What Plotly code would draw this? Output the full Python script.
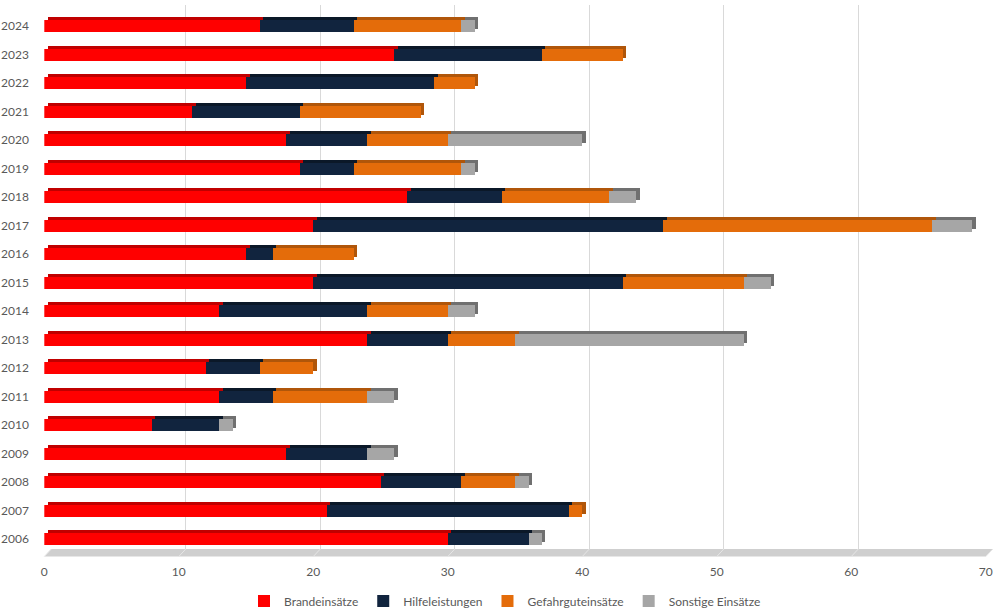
import plotly.graph_objects as go

years = [str(y) for y in range(2006, 2025)]
brand = [30, 21, 25, 18, 8, 13, 12, 24, 13, 20, 15, 20, 27, 19, 18, 11, 15, 26, 16]
hilfe = [6, 18, 6, 6, 5, 4, 4, 6, 11, 23, 2, 26, 7, 4, 6, 8, 14, 11, 7]
gefahr = [0, 1, 4, 0, 0, 7, 4, 5, 6, 9, 6, 20, 8, 8, 6, 9, 3, 6, 8]
sonst = [1, 0, 1, 2, 1, 2, 0, 17, 2, 2, 0, 3, 2, 1, 10, 0, 0, 0, 1]

names = ["Brandeinsätze", "Hilfeleistungen", "Gefahrguteinsätze", "Sonstige Einsätze"]
series = [brand, hilfe, gefahr, sonst]
front_colors = ["#FF0000", "#11243E", "#E46C0A", "#A6A6A6"]
side_colors = ["#C00000", "#0B1828", "#B0560A", "#707070"]

W, H = 1000, 611
FONT = "Lato"
TXT = "#595959"

# pixel geometry
fx0, fx1 = 44.3, 985.8          # front face: x=0 and x=70
fy_top, fy_bot = 12.0, 553.5     # front category band
dx, dy = 3.5, 3.0                # depth offset of top / end faces
gx_off = 7.0                     # back plane offset for gridlines
gy_top, gy_bot = 5.0, 549.0

def px(x):
    return x / W

def py(y):
    return (H - y) / H

fig = go.Figure()

# grid subplot (back plane)
fig.add_trace(go.Scatter(x=[None], y=[None], xaxis="x", yaxis="y",
                         showlegend=False, hoverinfo="skip"))

# depth faces (shadow subplot)
for s, c in zip(series, side_colors):
    fig.add_trace(go.Bar(y=years, x=s, orientation="h", marker=dict(color=c, line=dict(width=0)),
                         width=0.42, xaxis="x2", yaxis="y2", showlegend=False, hoverinfo="skip"))

# front faces
for n, s, c in zip(names, series, front_colors):
    fig.add_trace(go.Bar(y=years, x=s, name=n, orientation="h",
                         marker=dict(color=c, line=dict(width=0)),
                         width=0.42, xaxis="x3", yaxis="y3"))

# floor
shapes = [dict(type="path", xref="paper", yref="paper", layer="below",
               path=f"M {px(fx0+gx_off)},{py(gy_bot)} L {px(fx1+gx_off)},{py(gy_bot)} "
                    f"L {px(fx1)},{py(gy_bot+7.5)} L {px(fx0)},{py(gy_bot+7.5)} Z",
               fillcolor="#CFCFCF", line=dict(width=0))]
for v in range(0, 71, 10):
    xx = fx0 + (fx1 - fx0) * v / 70
    shapes.append(dict(type="line", xref="paper", yref="paper", layer="below",
                       x0=px(xx + gx_off), y0=py(gy_bot), x1=px(xx), y1=py(gy_bot + 7.5),
                       line=dict(color="#E6E6E6", width=1)))

hidden = dict(showgrid=False, zeroline=False, showline=False, showticklabels=False, ticks="",
              automargin=False)

fig.update_layout(
    width=W, height=611, autosize=False,
    margin=dict(l=0, r=0, t=0, b=0, autoexpand=False),
    paper_bgcolor="white", plot_bgcolor="rgba(0,0,0,0)",
    barmode="stack",
    font=dict(family=FONT, size=12, color=TXT),
    shapes=shapes,
    xaxis=dict(domain=[px(fx0 + gx_off), px(fx1 + gx_off)], range=[0, 70], dtick=10,
               showgrid=True, gridcolor="#D9D9D9", gridwidth=1, zeroline=False,
               showline=False, showticklabels=False, ticks="", anchor="y", automargin=False),
    yaxis=dict(domain=[py(gy_bot), py(gy_top)], range=[0, 1], anchor="x", **hidden),
    xaxis2=dict(domain=[px(fx0 + dx), px(fx1 + dx)], range=[0, 70], anchor="y2", **hidden),
    yaxis2=dict(domain=[py(fy_bot - dy), py(fy_top - dy)], type="category",
                categoryorder="array", categoryarray=years, range=[-0.5, 18.5],
                anchor="x2", **hidden),
    xaxis3=dict(domain=[px(fx0), px(fx1)], range=[0, 70], tickvals=list(range(0, 71, 10)),
                showgrid=False, zeroline=False, showline=False, ticks="outside",
                ticklen=7, tickcolor="rgba(0,0,0,0)", tickfont=dict(size=12, color=TXT),
                anchor="y3", automargin=False),
    yaxis3=dict(domain=[py(fy_bot), py(fy_top)], type="category",
                categoryorder="array", categoryarray=years, range=[-0.5, 18.5],
                showgrid=False, zeroline=False, showline=False, ticks="outside",
                ticklen=12, tickcolor="rgba(0,0,0,0)", tickfont=dict(size=12, color=TXT),
                anchor="x3", automargin=False),
    legend=dict(orientation="h", x=0.505, xanchor="center", y=py(601), yanchor="middle",
                font=dict(size=12, color=TXT), itemwidth=30, traceorder="normal",
                bgcolor="rgba(0,0,0,0)"),
)

fig.write_html("out.html", config={"displayModeBar": False},
               post_script="document.body.style.margin='0';document.body.style.overflow='hidden';")
